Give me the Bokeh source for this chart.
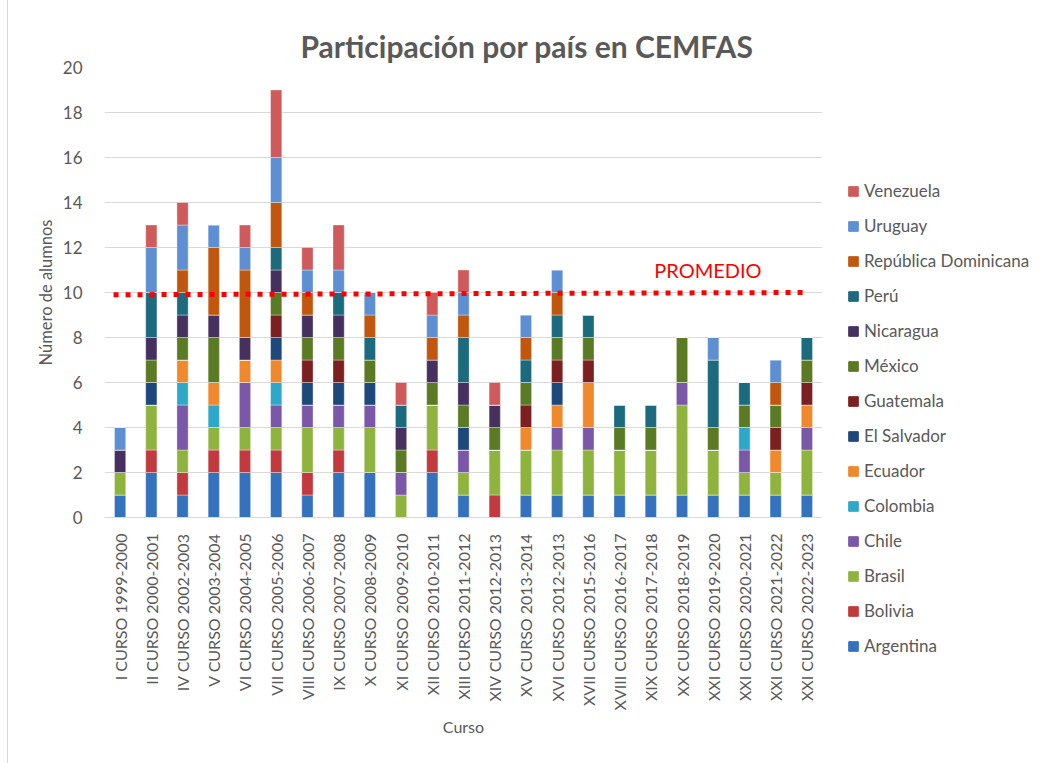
import math
from bokeh.plotting import figure
from bokeh.layouts import row, column
from bokeh.models import (Range1d, FixedTicker, Legend, LegendItem, Label, ColumnDataSource)
from bokeh.embed import file_html
from bokeh.resources import INLINE

categories = ["I CURSO 1999-2000", "II CURSO 2000-2001", "IV CURSO 2002-2003", "V CURSO 2003-2004",
              "VI CURSO 2004-2005", "VII CURSO 2005-2006", "VIII CURSO 2006-2007", "IX CURSO 2007-2008",
              "X CURSO 2008-2009", "XI CURSO 2009-2010", "XII CURSO 2010-2011", "XIII CURSO 2011-2012",
              "XIV CURSO 2012-2013", "XV CURSO 2013-2014", "XVI CURSO 2012-2013", "XVII CURSO 2015-2016",
              "XVIII CURSO 2016-2017", "XIX CURSO 2017-2018", "XX CURSO 2018-2019", "XXI CURSO 2019-2020",
              "XXI CURSO 2020-2021", "XXI CURSO 2021-2022", "XXI CURSO 2022-2023"]

countries = ["Argentina", "Bolivia", "Brasil", "Chile", "Colombia", "Ecuador", "El Salvador",
             "Guatemala", "México", "Nicaragua", "Perú", "República Dominicana", "Uruguay", "Venezuela"]

argentina   = [1, 2, 1, 2, 2, 2, 1, 2, 2, 0, 2, 1, 0, 1, 1, 1, 1, 1, 1, 1, 1, 1, 1]
bolivia     = [0, 1, 1, 1, 1, 1, 1, 1, 0, 0, 1, 0, 1, 0, 0, 0, 0, 0, 0, 0, 0, 0, 0]
brasil      = [1, 2, 1, 1, 1, 1, 2, 1, 2, 1, 2, 1, 2, 2, 2, 2, 2, 2, 4, 2, 1, 1, 2]
chile       = [0, 0, 2, 0, 2, 1, 1, 1, 1, 1, 0, 1, 0, 0, 1, 1, 0, 0, 1, 0, 1, 0, 1]
colombia    = [0, 0, 1, 1, 0, 1, 0, 0, 0, 0, 0, 0, 0, 0, 0, 0, 0, 0, 0, 0, 1, 0, 0]
ecuador     = [0, 0, 1, 1, 1, 1, 0, 0, 0, 0, 0, 0, 0, 1, 1, 2, 0, 0, 0, 0, 0, 1, 1]
el_salvador = [0, 1, 0, 0, 0, 1, 1, 1, 1, 0, 0, 1, 0, 0, 1, 0, 0, 0, 0, 0, 0, 0, 0]
guatemala   = [0, 0, 0, 0, 0, 1, 1, 1, 0, 0, 0, 0, 0, 1, 1, 1, 0, 0, 0, 0, 0, 1, 1]
mexico      = [0, 1, 1, 2, 0, 1, 1, 1, 1, 1, 1, 1, 1, 1, 1, 1, 1, 1, 2, 1, 1, 1, 1]
nicaragua   = [1, 1, 1, 1, 1, 1, 1, 1, 0, 1, 1, 1, 1, 0, 0, 0, 0, 0, 0, 0, 0, 0, 0]
peru        = [0, 2, 1, 0, 0, 1, 0, 1, 1, 1, 0, 2, 0, 1, 1, 1, 1, 1, 0, 3, 1, 0, 1]
rep_dom     = [0, 0, 1, 3, 3, 2, 1, 0, 1, 0, 1, 1, 0, 1, 1, 0, 0, 0, 0, 0, 0, 1, 0]
uruguay     = [1, 2, 2, 1, 1, 2, 1, 1, 1, 0, 1, 1, 0, 1, 1, 0, 0, 0, 0, 1, 0, 1, 0]
venezuela   = [0, 1, 1, 0, 1, 3, 1, 2, 0, 1, 1, 1, 1, 0, 0, 0, 0, 0, 0, 0, 0, 0, 0]

series = [argentina, bolivia, brasil, chile, colombia, ecuador, el_salvador,
          guatemala, mexico, nicaragua, peru, rep_dom, uruguay, venezuela]

colors = ["#3572BE", "#C23A3D", "#8FB43E", "#7B57A8", "#2EA8C8", "#F0882C", "#1D487C",
          "#7C1F20", "#5A7A24", "#45305F", "#1C6A7E", "#C1570E", "#5D8FD2", "#CF5A5B"]

# hand-drawn average line: start/end positions (in bar units) and values
promedio_x = [0.29, 22.56]
promedio_y = [9.9, 10.0]

GRAY = "#595959"
FONT = "Lato"

p = figure(width=814, height=763, output_backend="svg", toolbar_location=None,
           x_range=Range1d(0, len(categories)), y_range=Range1d(0, 20),
           min_border_left=96, min_border_right=0, min_border_top=67, min_border_bottom=246,
           title="Participación por país en CEMFAS")

p.title.align = "left"
p.title.offset = 196
p.title.text_font = FONT
p.title.text_font_size = "30px"
p.title.text_font_style = "bold"
p.title.text_color = GRAY
p.title.standoff = 7

xs = [i + 0.5 for i in range(len(categories))]
data = {"x": xs}
for c, s in zip(countries, series):
    data[c] = s
src = ColumnDataSource(data)

renderers = p.vbar_stack(countries, x="x", width=0.36, source=src, color=colors,
                         line_color="white", line_alpha=0.35, line_width=1)

p.line(x=promedio_x, y=promedio_y, line_color="#FF0000", line_width=5, line_dash="5 7")

p.add_layout(Label(x=19.33, y=10.98, text="PROMEDIO", text_color="#FF0000", text_font=FONT,
                   text_font_size="20px", text_align="center", text_baseline="middle"))

# axes
p.xaxis.ticker = FixedTicker(ticks=xs)
p.xaxis.major_label_overrides = {x: c for x, c in zip(xs, categories)}
p.xaxis.major_label_orientation = math.pi / 2
p.xaxis.major_tick_line_color = None
p.xaxis.minor_tick_line_color = None
p.xaxis.axis_line_color = "#d9d9d9"
p.xaxis.major_label_text_font = FONT
p.xaxis.major_label_text_font_size = "16px"
p.xaxis.major_label_text_color = GRAY
p.xaxis.major_label_standoff = 10
p.xaxis.axis_label = "Curso"
p.xaxis.axis_label_text_font = FONT
p.xaxis.axis_label_text_font_size = "16px"
p.xaxis.axis_label_text_font_style = "normal"
p.xaxis.axis_label_text_color = GRAY
p.xaxis.axis_label_standoff = 4

p.yaxis.ticker = FixedTicker(ticks=list(range(0, 21, 2)))
p.yaxis.major_tick_line_color = None
p.yaxis.minor_tick_line_color = None
p.yaxis.axis_line_color = None
p.yaxis.major_label_text_font = FONT
p.yaxis.major_label_text_font_size = "17px"
p.yaxis.major_label_text_color = GRAY
p.yaxis.major_label_standoff = 16
p.yaxis.axis_label = "Número de alumnos"
p.yaxis.axis_label_text_font = FONT
p.yaxis.axis_label_text_font_size = "16.5px"
p.yaxis.axis_label_text_font_style = "normal"
p.yaxis.axis_label_text_color = GRAY
p.yaxis.axis_label_standoff = 4

p.xgrid.grid_line_color = None
p.ygrid.grid_line_color = "#d9d9d9"
p.outline_line_color = None

# legend panel (separate figure so the legend is not clipped)
pl = figure(width=225, height=763, output_backend="svg", toolbar_location=None,
            x_range=Range1d(0, 1), y_range=Range1d(0, 1),
            x_axis_type=None, y_axis_type=None,
            min_border_left=0, min_border_right=0, min_border_top=0, min_border_bottom=0)
pl.outline_line_color = None
pl.xgrid.grid_line_color = None
pl.ygrid.grid_line_color = None
dummy = [pl.vbar(x=[5], top=[5], bottom=[4], width=0.1, color=c) for c in colors]
items = [LegendItem(label=c, renderers=[r]) for c, r in zip(countries, dummy)][::-1]
legend = Legend(items=items, location=(25, 107), border_line_color=None, margin=0,
                background_fill_alpha=0, glyph_width=12, glyph_height=12,
                label_height=20, spacing=14, label_standoff=5, padding=10,
                label_text_font=FONT, label_text_font_size="17px", label_text_color=GRAY)
pl.add_layout(legend, "center")

layout = row(p, column(pl), spacing=0)
layout.styles = {"margin-left": "7px", "border-left": "1px solid #d9d9d9"}

open("out.html", "w").write(file_html(layout, INLINE))
